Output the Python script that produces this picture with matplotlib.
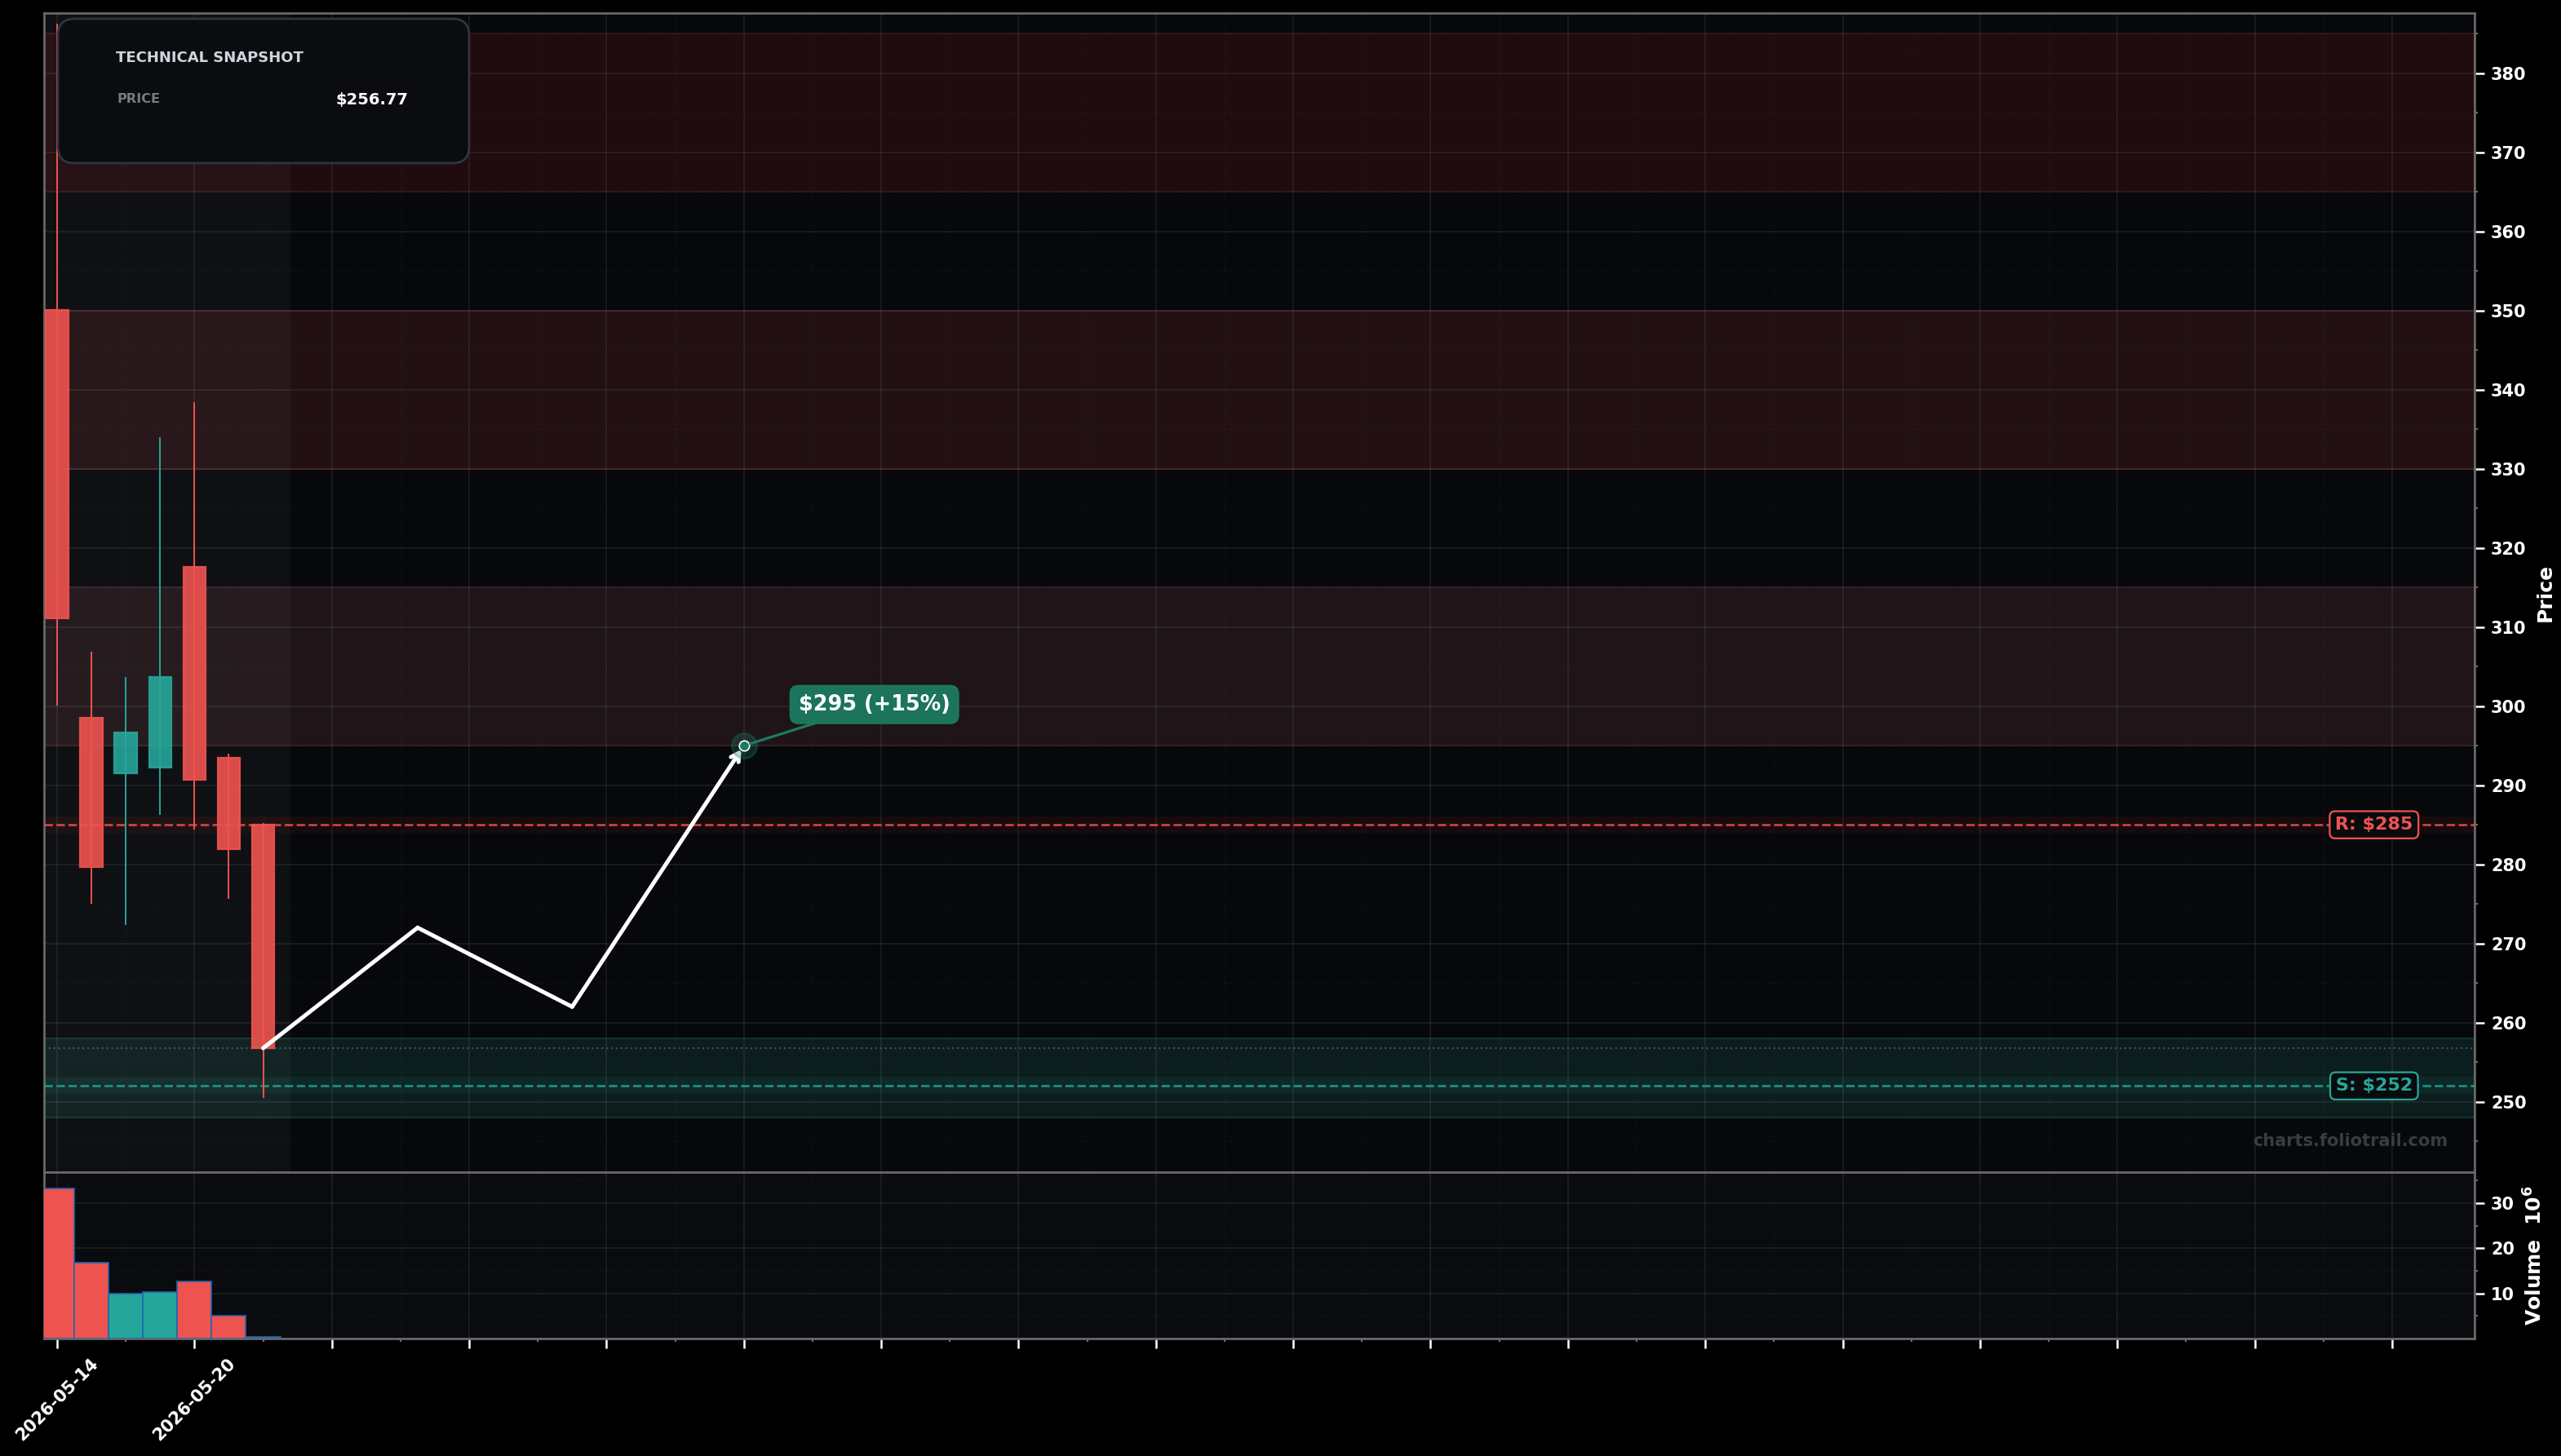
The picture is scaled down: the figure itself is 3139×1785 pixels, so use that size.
import numpy as np
import matplotlib.pyplot as plt
from matplotlib.patches import FancyBboxPatch
from matplotlib.ticker import MultipleLocator, FixedLocator, FuncFormatter

plt.rcParams['font.family'] = ['DejaVu Sans']
plt.rcParams['font.weight'] = 'bold'

# --- data ---
dates = ["2026-05-14", "2026-05-15", "2026-05-18", "2026-05-19",
         "2026-05-20", "2026-05-21", "2026-05-22"]
opens = [350.1, 298.5, 291.5, 292.2, 317.6, 293.5, 285.0]
highs = [386.3, 306.9, 303.7, 334.0, 338.4, 294.0, 285.2]
lows = [300.1, 275.0, 272.3, 286.3, 284.4, 275.6, 250.5]
closes = [311.1, 279.7, 296.7, 303.7, 290.7, 281.9, 256.77]
volumes = [33.3, 16.9, 10.0, 10.25, 12.7, 5.1, 0.3]  # millions

resistance_zones = [(365, 385), (330, 350), (295, 315)]
zone_faces = ["#200b0e", "#221013", "#1f1417"]
zone_edges = ["#3e1419", "#3b1a1e", "#3a2226"]
support_zone = (248, 258)
resistance = 285
support = 252
last_price = 256.77

path_x = [6, 10.5, 15, 20]
path_y = [256.77, 272, 262, 295]
target_pct = 15

RED = "#ef5350"
TEAL = "#26a69a"
BG = "#07080c"

fig = plt.figure(figsize=(3139 / 200, 1785 / 200), dpi=200, facecolor="black")
ax = fig.add_axes([0.0172, 0.19496, 0.9490, 0.7961])
axv = fig.add_axes([0.0172, 0.08067, 0.9490, 0.1143], sharex=ax)

for a in (ax, axv):
    a.set_facecolor(BG)
    for s in a.spines.values():
        s.set_color("#686868")
        s.set_linewidth(1.0)
axv.set_facecolor("#0a0b0f")

n = len(dates)
idx = np.arange(n)

# zones
for (lo, hi), fc, ec in zip(resistance_zones, zone_faces, zone_edges):
    ax.axhspan(lo, hi, facecolor=fc, edgecolor=ec, linewidth=0.6, zorder=1)
ax.axhspan(resistance - 1, resistance + 1, facecolor="#170a0d", edgecolor="none", zorder=1)
ax.axhspan(*support_zone, facecolor="#0c1d1d", edgecolor="#133a33", linewidth=0.6, zorder=1)
ax.axhspan(support - 1, support + 1.2, facecolor="#0d2926", edgecolor="none", zorder=1)

# history shade
ax.axvspan(-0.5, n - 0.2, color="white", alpha=0.035, linewidth=0, zorder=1.2)

# grids
for a in (ax, axv):
    a.grid(True, which="major", color="white", alpha=0.08, linewidth=0.6)
    a.grid(True, which="minor", color="white", alpha=0.05, linewidth=0.5, linestyle=":")

# levels
ax.axhline(resistance, color=RED, linestyle="--", linewidth=1.0, alpha=0.8, zorder=3)
ax.axhline(support, color=TEAL, linestyle="--", linewidth=1.0, alpha=0.8, zorder=3)
ax.axhline(last_price, color="#6a6d75", linestyle=":", linewidth=0.8, alpha=0.6, zorder=3)

# candles
cols = [TEAL if c >= o else RED for o, c in zip(opens, closes)]
ax.vlines(idx, lows, highs, colors=cols, linewidth=0.7, zorder=4)
bottoms = [min(o, c) for o, c in zip(opens, closes)]
heights = [abs(c - o) for o, c in zip(opens, closes)]
ax.bar(idx, heights, bottom=bottoms, width=0.65, color=cols, alpha=0.9,
       edgecolor=cols, linewidth=0.8, zorder=5)

# projected path
ax.plot(path_x[:-1], path_y[:-1], color="white", linewidth=1.8, zorder=6,
        solid_capstyle="round", solid_joinstyle="miter")
ax.annotate("", xy=(path_x[-1], path_y[-1]), xytext=(path_x[-2], path_y[-2]),
            arrowprops=dict(arrowstyle="->,head_length=0.35,head_width=0.2",
                            color="white", lw=1.8, shrinkA=0, shrinkB=2),
            zorder=6)

# target
ax.plot(path_x[-1], path_y[-1], "o", markersize=11, color="#1b7a5f", alpha=0.3, zorder=7)
ax.plot(path_x[-1], path_y[-1], "o", markersize=4.5, color="#1b7a5f",
        markeredgecolor="white", markeredgewidth=0.6, zorder=8)
ax.annotate(f"${path_y[-1]:.0f} (+{target_pct}%)", xy=(path_x[-1], path_y[-1]),
            xytext=(23.8, 300.2), ha="center", va="center", fontsize=9.2,
            fontweight="bold", color="white", zorder=9,
            bbox=dict(boxstyle="round,pad=0.38", facecolor="#1b7a5f",
                      edgecolor="#1b7a5f", alpha=0.95),
            arrowprops=dict(arrowstyle="-", color="#1b7a5f", lw=1.2,
                            shrinkA=0, shrinkB=3))

# level labels
tr = ax.get_yaxis_transform()
ax.text(0.9587, resistance, f"R: ${resistance}", transform=tr, ha="center", va="center",
        fontsize=8, fontweight="bold", color=RED, zorder=9,
        bbox=dict(boxstyle="round,pad=0.3", facecolor="#0a0b0f", edgecolor=RED, linewidth=0.8))
ax.text(0.9587, support, f"S: ${support}", transform=tr, ha="center", va="center",
        fontsize=8, fontweight="bold", color=TEAL, zorder=9,
        bbox=dict(boxstyle="round,pad=0.3", facecolor="#0a0b0f", edgecolor=TEAL, linewidth=0.8))

ax.text(0.989, 0.0267, "charts.foliotrail.com", transform=ax.transAxes, ha="right",
        va="center", fontsize=7.5, fontweight="bold", color="#3a3c43", zorder=9)

# snapshot card
card = FancyBboxPatch((0.0057, 0.8705), 0.1692, 0.1245, transform=ax.transAxes,
                      boxstyle="round,pad=0,rounding_size=0.0068", mutation_aspect=2.1,
                      facecolor="#0b0c10", edgecolor="#30343e", linewidth=1.0, zorder=10)
ax.add_patch(card)
ax.text(0.0295, 0.9615, "TECHNICAL SNAPSHOT", transform=ax.transAxes, fontsize=6.5,
        fontweight="bold", color="#d1d4dc", va="center", zorder=11)
ax.text(0.0299, 0.926, "PRICE", transform=ax.transAxes, fontsize=5.8,
        fontweight="bold", color="#787b86", va="center", zorder=11)
ax.text(0.150, 0.9247, f"${last_price:.2f}", transform=ax.transAxes, fontsize=7,
        fontweight="bold", color="white", va="center", ha="right", zorder=11)

# volume
axv.bar(idx, volumes, width=1.0, color=cols, edgecolor="#1f67b0", linewidth=0.6, zorder=3)

# axes / ticks
ax.set_xlim(-0.38, 70.4)
ax.set_ylim(241.1, 387.6)
axv.set_ylim(0, 36.9)

ax.xaxis.set_major_locator(FixedLocator(np.arange(0, 70, 4)))
ax.xaxis.set_minor_locator(FixedLocator(np.arange(2, 70, 4)))
ax.xaxis.set_major_formatter(FuncFormatter(
    lambda v, p: dates[int(round(v))] if 0 <= round(v) < n else ""))
ax.yaxis.set_major_locator(MultipleLocator(10))
ax.yaxis.set_minor_locator(MultipleLocator(5))
axv.yaxis.set_major_locator(FixedLocator([10, 20, 30]))
axv.yaxis.set_minor_locator(FixedLocator([5, 15, 25, 35]))

for a in (ax, axv):
    a.yaxis.tick_right()
    a.yaxis.set_label_position("right")
    a.tick_params(axis="both", which="major", colors="white", labelsize=7.5,
                  length=4.2, width=0.9, pad=3)
    a.tick_params(axis="both", which="minor", colors="#8a8a8a", length=1.6, width=0.6)
ax.tick_params(axis="x", which="both", length=0, labelbottom=False)
for lbl in axv.get_xticklabels():
    lbl.set_rotation(45)
    lbl.set_fontsize(7.5)
    lbl.set_fontweight("bold")

ax.set_ylabel("Price", color="white", fontsize=9, fontweight="bold", labelpad=4)
axv.set_ylabel(r"Volume  $\mathbf{10^6}$", color="white", fontsize=9, fontweight="bold",
               labelpad=4)

fig.savefig("out.png", dpi=200, facecolor="black")
